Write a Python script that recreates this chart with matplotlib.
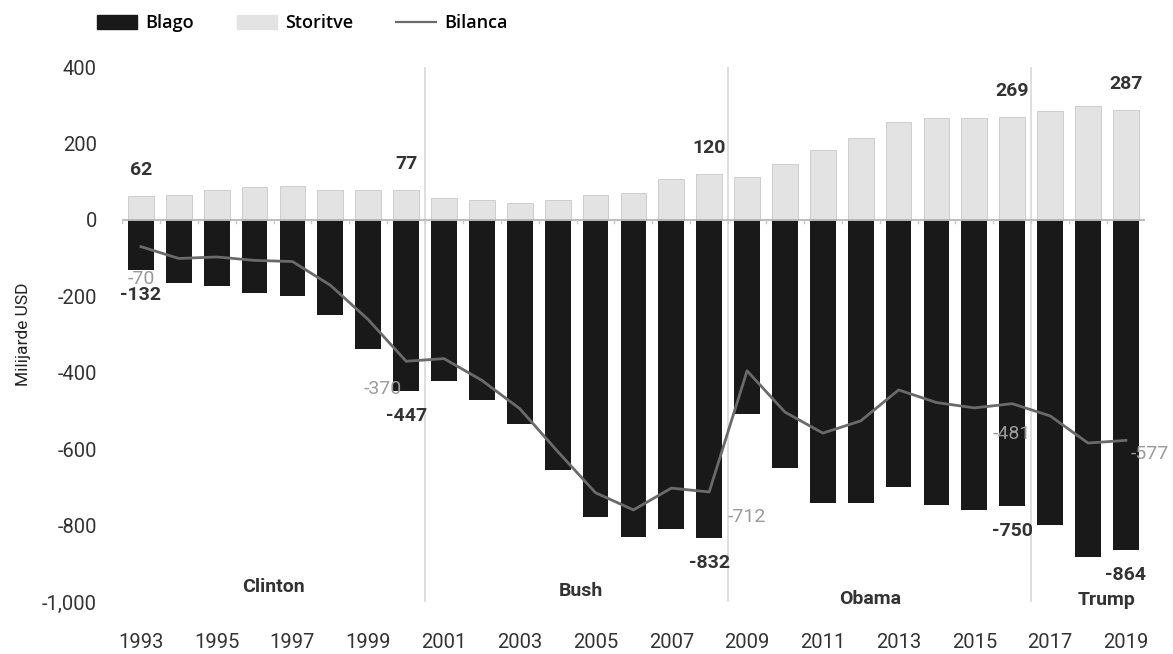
import matplotlib
matplotlib.use("Agg")
import matplotlib.pyplot as plt
from matplotlib.patches import Patch
from matplotlib.lines import Line2D
from matplotlib.ticker import FuncFormatter

# US trade balance by component, billions of USD
years = list(range(1993, 2020))
goods = [-132, -165, -174, -191, -198, -248, -338, -447,
         -421, -472, -535, -655, -778, -829, -810, -832,
         -507, -649, -741, -741, -700, -745, -759, -750,
         -799, -883, -864]
services = [62, 64, 77, 85, 89, 77, 77, 77,
            58, 52, 45, 52, 64, 70, 108, 120,
            112, 146, 183, 215, 255, 267, 267, 269,
            286, 299, 287]
balance = [-70, -101, -97, -106, -109, -171, -261, -370,
           -363, -420, -494, -606, -714, -759, -702, -712,
           -395, -503, -558, -526, -445, -478, -492, -481,
           -513, -584, -577]

presidents = ["Clinton", "Bush", "Obama", "Trump"]
term_starts = [1993, 2001, 2009, 2017]
name_x = [1996.5, 2004.6, 2012.25, 2018.5]
name_y = [-962, -972, -992, -995]

# years whose values are written next to the marks
labelled_years = [1993, 2000, 2008, 2016, 2019]

plt.rcParams["font.family"] = ["Roboto", "DejaVu Sans"]

C_GOODS = "#191919"
C_SERV = "#e3e3e3"
C_LINE = "#6a6a6a"
C_TEXT = "#333333"
C_BAL_TXT = "#9a9a9a"
C_SEP = "#dcdcdc"

fig = plt.figure(figsize=(11.73, 6.54), dpi=100)
ax = fig.add_axes([0.104, 0.0795, 0.872, 0.818])

ax.bar(years, goods, width=0.68, color=C_GOODS, zorder=2)
ax.bar(years, services, width=0.68, color=C_SERV, edgecolor="#c8c8c8",
       linewidth=0.6, zorder=2)
ax.plot(years, balance, color=C_LINE, linewidth=2.0, zorder=4)

ax.set_xlim(1992.5, 2019.5)
ax.set_ylim(-1000, 400)

# zero baseline with small category ticks
ax.axhline(0, color="#b0b0b0", linewidth=1.2, zorder=3)
for b in range(1993, 2020):
    ax.plot([b - 0.5, b - 0.5], [0, -9], color="#c8c8c8", linewidth=1.0, zorder=3)

# term separators
ax.axvline(1992.45, color=C_SEP, linewidth=1.3, zorder=1)
for start in term_starts[1:]:
    ax.axvline(start - 0.5, color=C_SEP, linewidth=1.3, zorder=1)

# president names
for name, nx, ny in zip(presidents, name_x, name_y):
    ax.text(nx, ny, name, ha="center", va="center", fontsize=14,
            fontweight="bold", color=C_TEXT)

# value labels
bal_offsets = {1993: (0, -23), 2000: (-17, -20), 2008: (27, -18),
               2016: (0, -22), 2019: (17, -10)}
for y in labelled_years:
    i = years.index(y)
    ax.annotate(f"{services[i]}", (y, services[i]), xytext=(0, 19),
                textcoords="offset points", ha="center", va="center",
                fontsize=14, fontweight="bold", color=C_TEXT, zorder=6)
    ax.annotate(f"{goods[i]}", (y, goods[i]), xytext=(0, -18),
                textcoords="offset points", ha="center", va="center",
                fontsize=14, fontweight="bold", color=C_TEXT, zorder=6)
    dx, dy = bal_offsets[y]
    ax.annotate(f"{balance[i]}", (y, balance[i]),
                xytext=(dx, dy), textcoords="offset points",
                ha="center", va="center", fontsize=14, color=C_BAL_TXT, zorder=6)

# axes styling
for s in ax.spines.values():
    s.set_visible(False)
ax.set_xticks(years[::2])
ax.set_xticklabels([str(y) for y in years[::2]], fontsize=14.5, color=C_TEXT)
ax.set_yticks(range(-1000, 401, 200))
ax.yaxis.set_major_formatter(FuncFormatter(lambda v, p: f"{int(v):,}"))
for lbl in ax.get_yticklabels():
    lbl.set_fontsize(14.5)
    lbl.set_color(C_TEXT)
ax.tick_params(axis="both", length=0)
ax.tick_params(axis="x", pad=22)
ax.tick_params(axis="y", pad=18)
ax.set_ylabel("Milijarde USD", fontsize=12.5, color="#222222", labelpad=8)

handles = [Patch(facecolor=C_GOODS, edgecolor=C_GOODS),
           Patch(facecolor=C_SERV, edgecolor=C_SERV),
           Line2D([0], [0], color=C_LINE, linewidth=1.6)]
fig.legend(handles, ["Blago", "Storitve", "Bilanca"], loc="upper left",
           bbox_to_anchor=(0.0827, 0.978), ncol=3, frameon=False,
           prop={"family": "Open Sans", "weight": "semibold", "size": 13},
           handlelength=2.2, handleheight=0.85, columnspacing=2.4,
           handletextpad=0.45, borderpad=0, borderaxespad=0)

fig.savefig("out.png", dpi=100)
